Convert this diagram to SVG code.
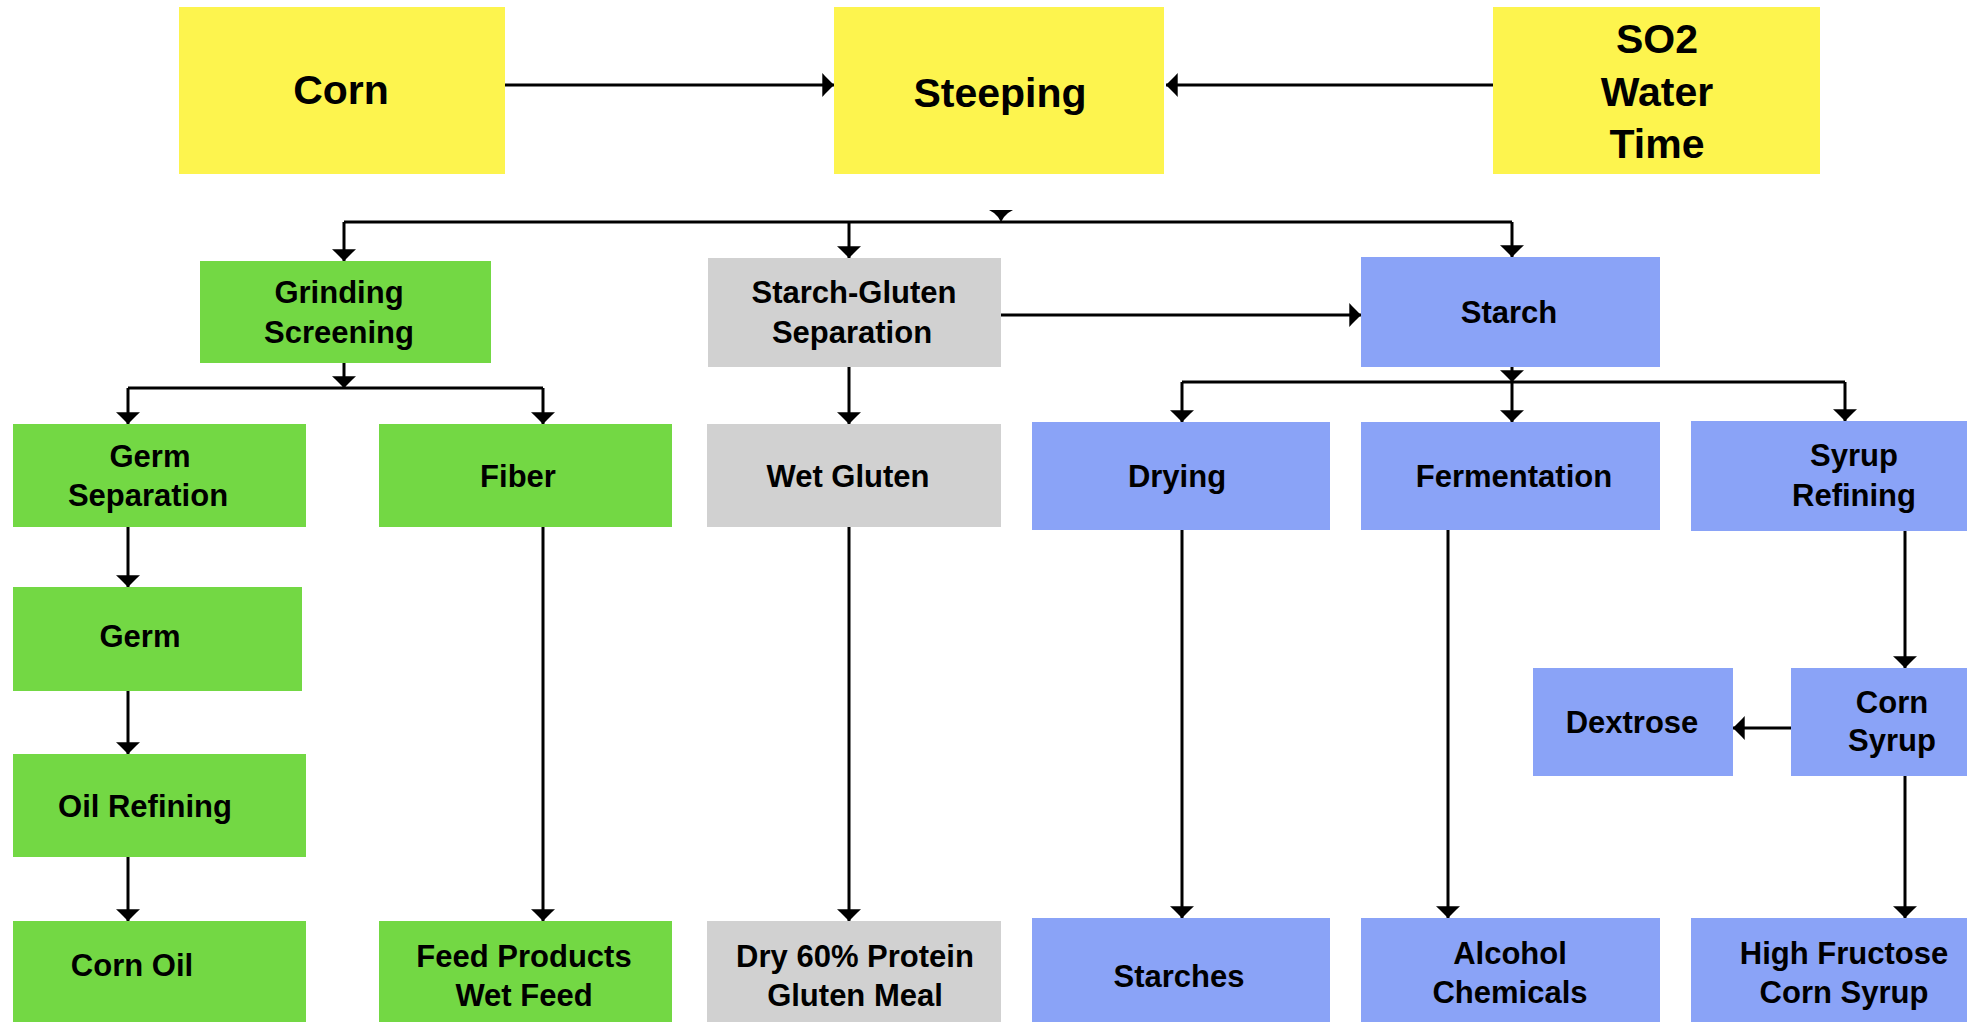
<svg xmlns="http://www.w3.org/2000/svg" width="1967" height="1022" viewBox="0 0 1967 1022">
<style>
  .y { fill: #FDF44E; }
  .g { fill: #73D844; }
  .s { fill: #D1D1D1; }
  .b { fill: #8AA3F7; }
  text { font-family: "Liberation Sans", Arial, sans-serif; font-weight: bold; fill: #000; text-anchor: middle; }
  .big { font-size: 41px; }
  .mid { font-size: 31px; }
  .c { stroke: #000; stroke-width: 3; fill: none; }
  .a { marker-end: url(#arr); }
</style>
<defs>
  <marker id="arr" markerUnits="userSpaceOnUse" viewBox="0 0 12 24" markerWidth="12" markerHeight="24" refX="11.7" refY="12" orient="auto">
    <path d="M0,0 L2.7,3 L6.7,7 L11.7,12 L6.7,17 L2.7,21 L0,24 Z" fill="#000"/>
  </marker>
</defs>
<rect width="1967" height="1022" fill="#fff"/>

<g id="connectors">
  <line class="c a" x1="505" y1="85" x2="834" y2="85"/>
  <line class="c a" x1="1493" y1="85" x2="1166" y2="85"/>
  <path d="M989,210 L1013,210 L1008,213 L1004,217 L1001,222 L998,217 L994,213 Z" fill="#000"/>
  <polyline class="c" points="344,222 1512,222"/>
  <line class="c a" x1="344" y1="222" x2="344" y2="261"/>
  <line class="c a" x1="849" y1="222" x2="849" y2="258"/>
  <line class="c a" x1="1512" y1="222" x2="1512" y2="257"/>
  <line class="c a" x1="344" y1="363" x2="344" y2="388"/>
  <polyline class="c" points="128,388 543,388"/>
  <line class="c a" x1="128" y1="388" x2="128" y2="424"/>
  <line class="c a" x1="543" y1="388" x2="543" y2="424"/>
  <line class="c a" x1="1001" y1="315" x2="1361" y2="315"/>
  <line class="c a" x1="849" y1="367" x2="849" y2="424"/>
  <line class="c a" x1="1512" y1="367" x2="1512" y2="382"/>
  <polyline class="c" points="1182,382 1845,382"/>
  <line class="c a" x1="1182" y1="382" x2="1182" y2="422"/>
  <line class="c a" x1="1512" y1="382" x2="1512" y2="422"/>
  <line class="c a" x1="1845" y1="382" x2="1845" y2="421"/>
  <line class="c a" x1="128" y1="527" x2="128" y2="587"/>
  <line class="c a" x1="128" y1="691" x2="128" y2="754"/>
  <line class="c a" x1="128" y1="857" x2="128" y2="921"/>
  <line class="c a" x1="543" y1="527" x2="543" y2="921"/>
  <line class="c a" x1="849" y1="527" x2="849" y2="921"/>
  <line class="c a" x1="1182" y1="530" x2="1182" y2="918"/>
  <line class="c a" x1="1448" y1="530" x2="1448" y2="918"/>
  <line class="c a" x1="1905" y1="531" x2="1905" y2="668"/>
  <line class="c a" x1="1791" y1="728" x2="1733" y2="728"/>
  <line class="c a" x1="1905" y1="776" x2="1905" y2="918"/>
</g>

<g id="corn"><rect class="y" x="179" y="7" width="326" height="167"/><text class="big" x="341" y="104">Corn</text></g>
<g id="steeping"><rect class="y" x="834" y="7" width="330" height="167"/><text class="big" x="1000" y="107">Steeping</text></g>
<g id="so2"><rect class="y" x="1493" y="7" width="327" height="167"/><text class="big" x="1657" y="53">SO2</text><text class="big" x="1657" y="106">Water</text><text class="big" x="1657" y="158">Time</text></g>

<g id="grinding"><rect class="g" x="200" y="261" width="291" height="102"/><text class="mid" x="339" y="303">Grinding</text><text class="mid" x="339" y="343">Screening</text></g>
<g id="starch-gluten"><rect class="s" x="708" y="258" width="293" height="109"/><text class="mid" x="854" y="303">Starch-Gluten</text><text class="mid" x="852" y="343">Separation</text></g>
<g id="starch"><rect class="b" x="1361" y="257" width="299" height="110"/><text class="mid" x="1509" y="323">Starch</text></g>

<g id="germ-separation"><rect class="g" x="13" y="424" width="293" height="103"/><text class="mid" x="150" y="467">Germ</text><text class="mid" x="148" y="506">Separation</text></g>
<g id="fiber"><rect class="g" x="379" y="424" width="293" height="103"/><text class="mid" x="518" y="487">Fiber</text></g>
<g id="wet-gluten"><rect class="s" x="707" y="424" width="294" height="103"/><text class="mid" x="848" y="487">Wet Gluten</text></g>
<g id="drying"><rect class="b" x="1032" y="422" width="298" height="108"/><text class="mid" x="1177" y="487">Drying</text></g>
<g id="fermentation"><rect class="b" x="1361" y="422" width="299" height="108"/><text class="mid" x="1514" y="487">Fermentation</text></g>
<g id="syrup-refining"><rect class="b" x="1691" y="421" width="300" height="110"/><text class="mid" x="1854" y="466">Syrup</text><text class="mid" x="1854" y="506">Refining</text></g>

<g id="germ"><rect class="g" x="13" y="587" width="289" height="104"/><text class="mid" x="140" y="647">Germ</text></g>
<g id="dextrose"><rect class="b" x="1533" y="668" width="200" height="108"/><text class="mid" x="1632" y="733">Dextrose</text></g>
<g id="corn-syrup"><rect class="b" x="1791" y="668" width="200" height="108"/><text class="mid" x="1892" y="713">Corn</text><text class="mid" x="1892" y="751">Syrup</text></g>
<g id="oil-refining"><rect class="g" x="13" y="754" width="293" height="103"/><text class="mid" x="145" y="817">Oil Refining</text></g>

<g id="corn-oil"><rect class="g" x="13" y="921" width="293" height="110"/><text class="mid" x="132" y="976">Corn Oil</text></g>
<g id="feed-products"><rect class="g" x="379" y="921" width="293" height="110"/><text class="mid" x="524" y="967">Feed Products</text><text class="mid" x="524" y="1006">Wet Feed</text></g>
<g id="gluten-meal"><rect class="s" x="707" y="921" width="294" height="110"/><text class="mid" x="855" y="967">Dry 60% Protein</text><text class="mid" x="855" y="1006">Gluten Meal</text></g>
<g id="starches"><rect class="b" x="1032" y="918" width="298" height="110"/><text class="mid" x="1179" y="987">Starches</text></g>
<g id="alcohol"><rect class="b" x="1361" y="918" width="299" height="110"/><text class="mid" x="1510" y="964">Alcohol</text><text class="mid" x="1510" y="1003">Chemicals</text></g>
<g id="hfcs"><rect class="b" x="1691" y="918" width="300" height="110"/><text class="mid" x="1844" y="964">High Fructose</text><text class="mid" x="1844" y="1003">Corn Syrup</text></g>
</svg>
